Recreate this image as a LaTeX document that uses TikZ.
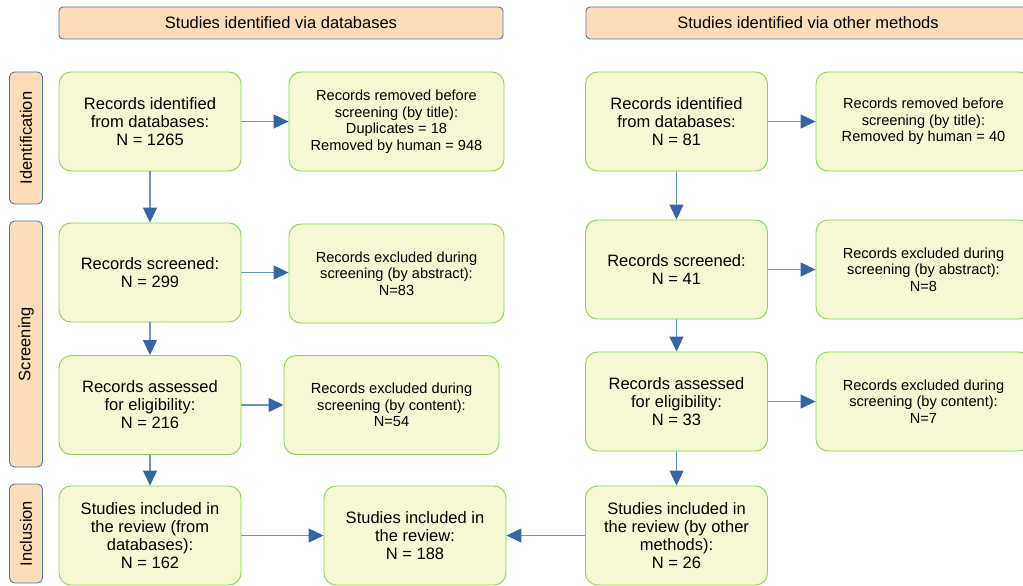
\documentclass[tikz,border=0pt]{standalone}
\usepackage{fontspec}
\setmainfont{Liberation Sans}
\usepackage{tikz}
\usetikzlibrary{arrows.meta}

\definecolor{headfill}{HTML}{FDDCB8}
\definecolor{headline}{HTML}{4A76B8}
\definecolor{boxfill}{HTML}{F5F8D3}
\definecolor{boxline}{HTML}{8CD24C}
\definecolor{linkline}{HTML}{6A94CC}
\definecolor{linkhead}{HTML}{3465A4}

\tikzset{
  header/.style={draw=headline, fill=headfill, rounded corners=4pt, line width=0.9pt,
    minimum width=444pt, minimum height=32pt, inner sep=0pt,
    font=\fontsize{16.5}{18}\selectfont},
  phase/.style={draw=headline, fill=headfill, rounded corners=5pt, line width=0.9pt,
    rotate=90, minimum height=33pt, inner sep=0pt,
    font=\fontsize{16.5}{18}\selectfont},
  mainbox/.style={draw=boxline, fill=boxfill, rounded corners=12pt, line width=0.9pt,
    minimum width=182pt, minimum height=99pt, inner sep=0pt, align=center,
    font=\fontsize{16.5}{18}\selectfont},
  sidebox/.style={draw=boxline, fill=boxfill, rounded corners=12pt, line width=0.9pt,
    minimum width=215pt, minimum height=99pt, inner sep=0pt, align=center,
    font=\fontsize{14.6}{16.5}\selectfont},
  link/.style={draw=linkline, line width=1.2pt,
    -{Triangle[length=15pt,width=14pt,color=linkhead]}}
}

\begin{document}
\begin{tikzpicture}[x=1pt,y=-1pt]
  \clip (0,0) rectangle (1023,586);

  % Headers and phases
  \node[header] (hdb) at (281,23) {Studies identified via databases};
  \node[header] (hother) at (808,23) {Studies identified via other methods};
  \node[phase, minimum width=132pt] (pident) at (26,138) {Identification};
  \node[phase, minimum width=246pt] (pscreen) at (26,344) {Screening};
  \node[phase, minimum width=99pt] (pincl) at (26,533.5) {Inclusion};

  % Databases column
  \node[mainbox] (dbid) at (150,121.5) {Records identified\\from databases:\\N = 1265};
  \node[sidebox] (dbrem) at (396.5,121.5) {Records removed before\\screening (by title):\\Duplicates = 18\\Removed by human = 948};
  \node[mainbox] (dbscr) at (150,272.5) {Records screened:\\N = 299};
  \node[sidebox] (dbabs) at (396.5,273.5) {Records excluded during\\screening (by abstract):\\N=83};
  \node[mainbox] (dbelig) at (150,405) {Records assessed\\for eligibility:\\N = 216};
  \node[sidebox] (dbcont) at (391.5,405) {Records excluded during\\screening (by content):\\N=54};
  \node[mainbox] (dbinc) at (150,535.5) {Studies included in\\the review (from\\databases):\\N = 162};

  % Total
  \node[mainbox] (total) at (415,535.5) {Studies included in\\the review:\\N = 188};

  % Other methods column
  \node[mainbox] (otid) at (676.5,121.5) {Records identified\\from databases:\\N = 81};
  \node[sidebox] (otrem) at (923.5,121.5) {Records removed before\\screening (by title):\\Removed by human = 40};
  \node[mainbox] (otscr) at (676.5,269.5) {Records screened:\\N = 41};
  \node[sidebox] (otabs) at (923.5,269.5) {Records excluded during\\screening (by abstract):\\N=8};
  \node[mainbox] (otelig) at (676.5,401.5) {Records assessed\\for eligibility:\\N = 33};
  \node[sidebox] (otcont) at (923.5,401.5) {Records excluded during\\screening (by content):\\N=7};
  \node[mainbox] (otinc) at (676.5,535.5) {Studies included in\\the review (by other\\methods):\\N = 26};

  % Arrows
  \draw[link] (dbid) -- (dbrem);
  \draw[link] (dbid) -- (dbscr);
  \draw[link] (dbscr.east) -- (dbabs.west |- dbscr.east);
  \draw[link] (dbscr) -- (dbelig);
  \draw[link] (dbelig) -- (dbcont);
  \draw[link] (dbelig) -- (dbinc);
  \draw[link] (dbinc) -- (total);
  \draw[link] (otid) -- (otrem);
  \draw[link] (otid) -- (otscr);
  \draw[link] (otscr) -- (otabs);
  \draw[link] (otscr) -- (otelig);
  \draw[link] (otelig) -- (otcont);
  \draw[link] (otelig) -- (otinc);
  \draw[link] (otinc) -- (total);
\end{tikzpicture}
\end{document}
